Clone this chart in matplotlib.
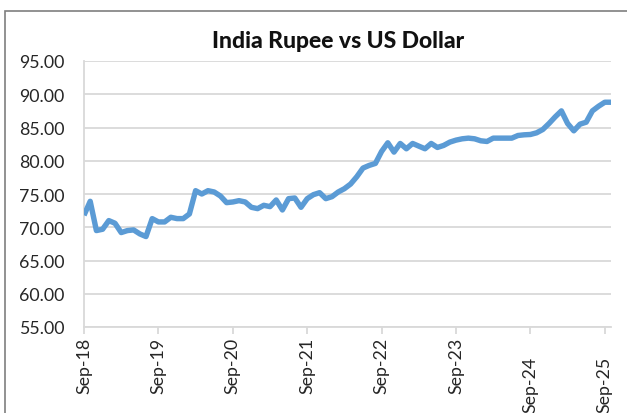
import matplotlib
matplotlib.use("Agg")
import matplotlib.pyplot as plt
from matplotlib.patches import Rectangle

# Monthly USD/INR, Sep-2018 .. Oct-2025
months = list(range(86))
values = [
    71.8, 73.9, 69.5, 69.7, 71.0, 70.6, 69.2, 69.5, 69.6, 69.0, 68.6, 71.3,
    70.8, 70.8, 71.5, 71.3, 71.3, 72.0, 75.5, 75.0, 75.5, 75.3, 74.7, 73.7,
    73.8, 74.0, 73.8, 73.0, 72.8, 73.3, 73.1, 74.1, 72.6, 74.3, 74.4, 73.0,
    74.3, 74.9, 75.2, 74.3, 74.6, 75.3, 75.8, 76.5, 77.6, 78.9, 79.3, 79.6,
    81.4, 82.7, 81.3, 82.6, 81.8, 82.6, 82.2, 81.8, 82.6, 82.0, 82.3, 82.8,
    83.1, 83.3, 83.4, 83.3, 83.0, 82.9, 83.4, 83.4, 83.4, 83.4, 83.8, 83.9,
    83.95, 84.2, 84.7, 85.6, 86.6, 87.5, 85.6, 84.5, 85.5, 85.8, 87.5, 88.2,
    88.8, 88.8,
]
tick_months = [0, 12, 24, 36, 48, 60, 72, 84]
tick_labels = ["Sep-18", "Sep-19", "Sep-20", "Sep-21", "Sep-22", "Sep-23", "Sep-24", "Sep-25"]
y_ticks = [55, 60, 65, 70, 75, 80, 85, 90, 95]
title = "India Rupee vs US Dollar"

plt.rcParams['font.family'] = ['Lato', 'DejaVu Sans']

W, H = 627, 414
fig = plt.figure(figsize=(W / 100, H / 100), dpi=100)

# outer chart border
fig.patches.append(Rectangle((5 / W, -0.1), 1.2, 1 - 12 / H + 0.1,
                             transform=fig.transFigure, fill=False,
                             edgecolor='#7f7f7f', linewidth=1.2))

ax_left, ax_right, ax_top, ax_bottom = 84, 611, 62, 328
ax = fig.add_axes([ax_left / W, 1 - ax_bottom / H,
                   (ax_right - ax_left) / W, (ax_bottom - ax_top) / H])

ax.plot(months, values, color='#5B9BD5', linewidth=3.9,
        solid_joinstyle='round', solid_capstyle='butt', zorder=3)

ax.set_xlim(0, 85)
ax.set_ylim(55, 95)
ax.set_yticks(y_ticks)
ax.set_yticklabels([f"{v:.2f}" for v in y_ticks])
ax.set_xticks(tick_months)
ax.set_xticklabels(tick_labels, rotation=90)

ax.grid(axis='y', color='#d9d9d9', linewidth=1.3, zorder=0)
for s in ['top', 'right']:
    ax.spines[s].set_visible(False)
ax.spines['left'].set_color('#d9d9d9')
ax.spines['left'].set_linewidth(1.3)
ax.spines['bottom'].set_color('#d9d9d9')
ax.spines['bottom'].set_linewidth(1.3)

ax.tick_params(axis='y', length=0, pad=14, labelsize=12.8, labelcolor='#262626')
ax.tick_params(axis='x', length=5, width=1.3, color='#d9d9d9', pad=2,
               labelsize=12.8, labelcolor='#262626')

# the last two category labels sit lower in the reference
fig.canvas.draw()
for t in ax.xaxis.get_major_ticks()[-2:]:
    t.set_pad(16)

fig.text(338 / W, 1 - 41 / H, title, ha='center', va='center',
         fontsize=16.5, fontweight='black', color='#111111')

fig.savefig("out.png", dpi=100)
